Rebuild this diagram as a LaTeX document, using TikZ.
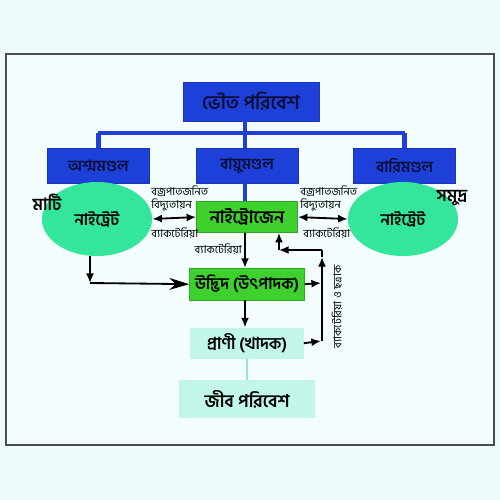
\documentclass[tikz,border=0pt]{standalone}
\usepackage{fontspec}
\newfontfamily\bnfont[Script=Bengali]{Hind Siliguri}
\usetikzlibrary{arrows.meta,positioning,shapes.geometric}

\definecolor{bgcyan}{HTML}{EDFAFC}
\definecolor{panelcyan}{HTML}{F3FDFE}
\definecolor{skyblue}{HTML}{1D40D8}
\definecolor{leafgreen}{HTML}{3ED02C}
\definecolor{mint}{HTML}{C2F6EA}
\definecolor{ovalgreen}{HTML}{34E69B}
\definecolor{inktext}{HTML}{0D0F3A}

\tikzset{
  bluebox/.style={draw=skyblue!85!black, fill=skyblue, text=inktext,
    font=\bnfont\bfseries\fontsize{11}{13}\selectfont,
    minimum width=2.55cm, minimum height=0.875cm, inner sep=0pt},
  greenbox/.style={draw=leafgreen!80!black, fill=leafgreen, text=black,
    font=\bnfont\bfseries\fontsize{12}{14}\selectfont, inner sep=0pt},
  mintbox/.style={fill=mint, text=black,
    font=\bnfont\bfseries\fontsize{12}{14}\selectfont, inner sep=0pt},
  oval/.style={ellipse, fill=ovalgreen, minimum width=2.75cm, minimum height=1.85cm,
    font=\bnfont\bfseries\fontsize{11.5}{13}\selectfont, inner sep=0pt},
  tinylabel/.style={font=\bnfont\fontsize{7.8}{8}\selectfont, inner sep=0pt},
  bigside/.style={font=\bnfont\bfseries\fontsize{12}{14}\selectfont, inner sep=0pt},
  treeline/.style={draw=skyblue, line width=3.5pt},
  flow/.style={-{Latex[length=2.4mm,width=2mm]}, line width=1.3pt},
  both/.style={{Latex[length=2.4mm,width=2mm]}-{Latex[length=2.4mm,width=2mm]}, line width=1.3pt},
}

\begin{document}
\begin{tikzpicture}[x=0.025cm, y=-0.025cm]
  % canvas and frame
  \fill[bgcyan] (0,0) rectangle (500,500);
  \useasboundingbox (0,0) rectangle (500,500);
  \draw[fill=panelcyan, draw=black!70, line width=0.8pt] (6,54) rectangle (494,445);

  % Define nodes
  \node[bluebox, minimum width=3.4cm, minimum height=0.975cm,
    font=\bnfont\bfseries\fontsize{13.7}{16}\selectfont] (phys) at (251,101.5) {ভৌত পরিবেশ};%
  \node[bluebox] (air) at (247,165.5) {বায়ুমণ্ডল};%
  \node[bluebox, left=1.15cm of air] (litho) {অশ্মমণ্ডল};%
  \node[bluebox, right=1.375cm of air] (hydro) {বারিমণ্ডল};%
  \node[greenbox, minimum width=2.525cm, minimum height=0.775cm,
    font=\bnfont\bfseries\fontsize{12.5}{14}\selectfont,
    below=0.45cm of air] (nitro) {নাইট্রোজেন};%
  \node[oval] (lsoil) at (97,219) {নাইট্রেট};%
  \node[oval] (rsea) at (403,219) {নাইট্রেট};%
  \node[bigside] (mati) at (47,202) {মাটি};%
  \node[bigside] (samudra) at (452,198) {সমুদ্র};%
  \node[greenbox, minimum width=2.875cm, minimum height=0.8cm,
    font=\bnfont\bfseries\fontsize{11.5}{14}\selectfont,
    below=0.875cm of nitro] (plant) {উদ্ভিদ (উৎপাদক)};%
  \node[mintbox, minimum width=2.825cm, minimum height=0.775cm,
    font=\bnfont\bfseries\fontsize{11.7}{14}\selectfont,
    below=0.675cm of plant] (animal) {প্রাণী (খাদক)};%
  \node[mintbox, minimum width=3.375cm, minimum height=0.95cm,
    font=\bnfont\bfseries\fontsize{12.5}{15}\selectfont,
    below=0.525cm of animal] (bio) {জীব পরিবেশ};%

  % small labels
  \node[tinylabel, anchor=west] (lthunder) at (151,191) {বজ্রপাতজনিত};%
  \node[tinylabel, anchor=west] (lspark) at (151,205) {বিদ্যুতায়ন};%
  \node[tinylabel, anchor=west] (lbact) at (151,233) {ব্যাকটেরিয়া};%
  \node[tinylabel, anchor=west] (rthunder) at (300,191) {বজ্রপাতজনিত};%
  \node[tinylabel, anchor=west] (rspark) at (300,205) {বিদ্যুতায়ন};%
  \node[tinylabel, anchor=west] (rbact) at (303,233) {ব্যাকটেরিয়া};%
  \node[tinylabel, anchor=east] (dbact) at (242,249) {ব্যাকটেরিয়া};%
  \node[tinylabel, rotate=90] (decomp) at (337,307) {ব্যাকটেরিয়া ও ছত্রাক};%

  % helper points
  \coordinate (bar) at (245,133);
  \coordinate (lbend) at (90,283);
  \coordinate (fbplant) at (321,283);
  \coordinate (fbanimal) at (321,341);
  \coordinate (fbbase) at (322,341);
  \coordinate (fbhead) at (322,257);
  \coordinate (fbtop) at (322,250);
  \coordinate (fbcorner) at (279,250);

  % Define edges - blue tree
  \draw[treeline] (phys.south -| bar) -- (bar);
  \draw[treeline] (litho.north |- bar) -- (hydro.north |- bar);
  \draw[treeline] (litho.north |- bar) -- (litho.north);
  \draw[treeline] (hydro.north |- bar) -- (hydro.north);
  \draw[treeline] (bar) -- (air.north -| bar);
  \draw[treeline] (air.south -| bar) -- (nitro.north -| bar);

  % nitrogen cycle
  \draw[both] (lsoil.east) -- (nitro.west);
  \draw[both] (nitro.east) -- (rsea.west);
  \draw[flow] (nitro.south -| bar) -- (plant.north -| bar);
  \draw[flow] (plant.south -| bar) -- (animal.north -| bar);
  \draw[draw=mint!80!teal, line width=2pt] (animal) -- (bio);
  \draw[flow] (lsoil.south -| lbend) -- (lbend);
  \draw[-{Stealth[length=5mm,width=3mm]}, line width=1.3pt] (lbend) -- (plant.west);

  % return path through decomposers
  \draw[flow] (plant.east) -- (fbplant);
  \draw[flow] (animal.east) -- (fbanimal);
  \draw[flow] (fbbase) -- (fbhead);
  \draw[line width=1.3pt] (fbhead) -- (fbtop);
  \draw[flow] (fbtop) -- (fbcorner);
  \draw[flow] (fbcorner) -- (nitro.south -| fbcorner);
\end{tikzpicture}
\end{document}
